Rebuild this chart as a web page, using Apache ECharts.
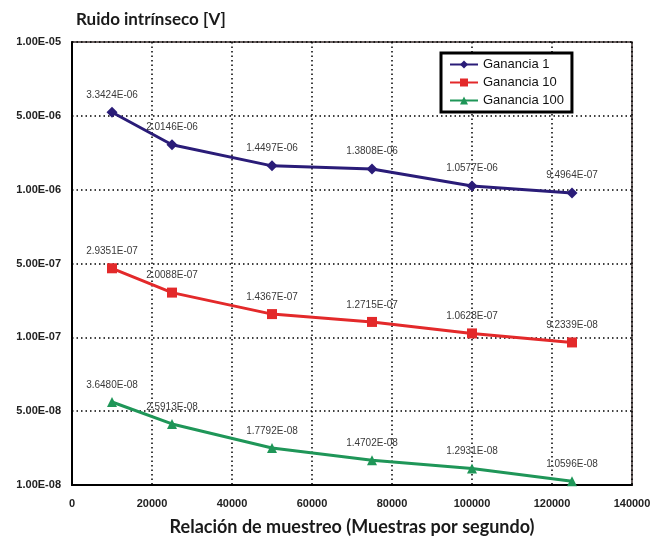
<!DOCTYPE html>
<html>
<head>
<meta charset="utf-8">
<script src="https://cdn.jsdelivr.net/npm/echarts@6/dist/echarts.min.js"></script>
<style>
  html, body { margin: 0; padding: 0; background: #ffffff; }
  #chart { width: 652px; height: 537px; }
</style>
</head>
<body>
<div id="chart"></div>
<script>
// Sampling rate (samples per second)
const sampleRates = [10000, 25000, 50000, 75000, 100000, 125000];

// Intrinsic noise [V] for each gain setting
const gain1 = [3.3424e-6, 2.0146e-6, 1.4497e-6, 1.3808e-6, 1.0577e-6, 9.4964e-7];
const gain10 = [2.9351e-7, 2.0088e-7, 1.4367e-7, 1.2715e-7, 1.0628e-7, 9.2339e-8];
const gain100 = [3.6480e-8, 2.5913e-8, 1.7792e-8, 1.4702e-8, 1.2931e-8, 1.0596e-8];

const seriesNames = ['Ganancia 1', 'Ganancia 10', 'Ganancia 100'];

// Y tick labels, one per half decade from 1e-8 up to 1e-5
const yTickLabels = ['1.00E-08', '5.00E-08', '1.00E-07', '5.00E-07', '1.00E-06', '5.00E-06', '1.00E-05'];

function sci(v) {
  const parts = v.toExponential(4).split('e');
  const exp = parts[1];
  const sign = exp[0];
  const digits = exp.slice(1).padStart(2, '0');
  return parts[0] + 'E' + sign + digits;
}

function pairs(ys) {
  return sampleRates.map((x, i) => [x, ys[i]]);
}

const labelStyle = {
  show: true,
  position: 'top',
  distance: 7,
  fontFamily: '"Liberation Sans Narrow", "Liberation Sans", Arial, sans-serif',
  fontSize: 10,
  color: '#3a3a3a',
  formatter: p => sci(p.value[1])
};

const chart = echarts.init(document.getElementById('chart'), null, { renderer: 'canvas' });

chart.setOption({
  animation: false,
  backgroundColor: '#ffffff',
  title: {
    text: 'Ruido intrínseco [V]',
    left: 71,
    top: 6,
    textStyle: {
      fontFamily: 'Lato, "DejaVu Sans", sans-serif',
      fontWeight: 'bold',
      fontSize: 17,
      color: '#1a1a1a'
    }
  },
  legend: {
    orient: 'vertical',
    left: 441,
    top: 53,
    data: seriesNames,
    itemWidth: 28,
    itemHeight: 10,
    itemGap: 5,
    padding: [5, 8, 5, 8],
    borderColor: '#000000',
    borderWidth: 3,
    backgroundColor: '#ffffff',
    textStyle: {
      fontFamily: '"Liberation Sans", Arial, sans-serif',
      fontSize: 13,
      color: '#111111'
    }
  },
  grid: {
    left: 72,
    right: 20,
    top: 42,
    bottom: 52,
    outerBoundsMode: 'none',
    containLabel: false,
    show: true,
    borderColor: '#3a2e2e',
    borderWidth: 1.5,
    backgroundColor: '#ffffff'
  },
  xAxis: {
    type: 'value',
    min: 0,
    max: 140000,
    interval: 20000,
    name: 'Relación de muestreo (Muestras por segundo)',
    nameLocation: 'middle',
    nameGap: 33,
    nameTextStyle: {
      fontFamily: 'Lato, "DejaVu Sans", sans-serif',
      fontWeight: 'bold',
      fontSize: 18,
      color: '#1a1a1a'
    },
    axisLine: { show: true, lineStyle: { color: '#000000', width: 2 } },
    axisTick: { show: false },
    axisLabel: {
      margin: 13,
      fontFamily: '"Liberation Sans", Arial, sans-serif',
      fontWeight: 'bold',
      fontSize: 11,
      color: '#222222',
      formatter: v => String(v)
    },
    splitLine: { show: true, lineStyle: { color: '#000000', type: [1.5, 3], width: 1.5 } }
  },
  yAxis: {
    type: 'log',
    logBase: Math.sqrt(10),
    min: 1e-8,
    max: 1e-5,
    axisLine: { show: true, lineStyle: { color: '#000000', width: 2 } },
    axisTick: { show: false },
    axisLabel: {
      margin: 11,
      fontFamily: '"Liberation Sans", Arial, sans-serif',
      fontWeight: 'bold',
      fontSize: 11,
      color: '#222222',
      formatter: v => {
        const idx = Math.round(Math.log10(v) * 2) + 16;
        return yTickLabels[idx] !== undefined ? yTickLabels[idx] : '';
      }
    },
    splitLine: { show: true, lineStyle: { color: '#000000', type: [1.5, 3], width: 1.5 } }
  },
  series: [
    {
      name: seriesNames[0],
      type: 'line',
      data: pairs(gain1),
      symbol: 'diamond',
      symbolSize: 11,
      color: '#2a1c78',
      lineStyle: { width: 3, color: '#2a1c78' },
      itemStyle: { color: '#2a1c78' },
      label: labelStyle,
      z: 5
    },
    {
      name: seriesNames[1],
      type: 'line',
      data: pairs(gain10),
      symbol: 'rect',
      symbolSize: 10,
      color: '#e3292a',
      lineStyle: { width: 3, color: '#e3292a' },
      itemStyle: { color: '#e3292a' },
      label: labelStyle,
      z: 5
    },
    {
      name: seriesNames[2],
      type: 'line',
      data: pairs(gain100),
      symbol: 'triangle',
      symbolSize: 10,
      color: '#1f9658',
      lineStyle: { width: 3, color: '#1f9658' },
      itemStyle: { color: '#1f9658' },
      label: labelStyle,
      z: 5
    }
  ]
});
</script>
</body>
</html>
